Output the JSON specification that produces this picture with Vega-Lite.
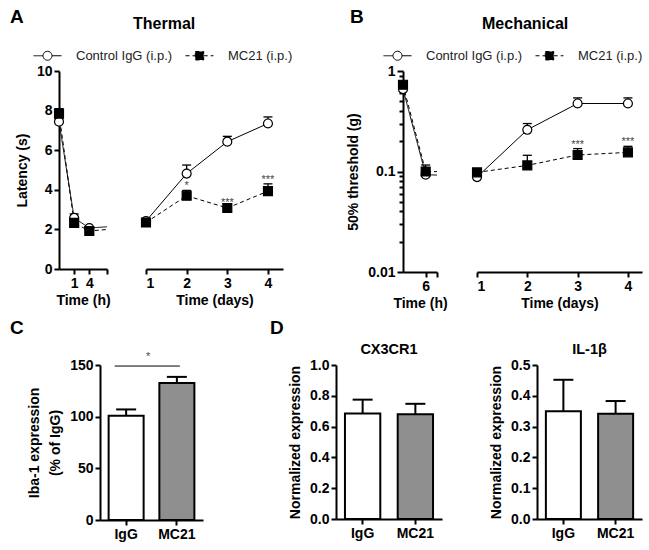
{
"$schema": "https://vega.github.io/schema/vega-lite/v6.json",
"background": "white",
"padding": {"left": 10, "top": 8, "right": 2, "bottom": 2},
"spacing": 9,
"resolve": {"scale": {"fill": "independent", "strokeDash": "independent"}},
"config": {
  "font": "Liberation Sans",
  "view": {"stroke": null},
  "axis": {"domainColor": "black", "domainWidth": 2, "tickColor": "black", "tickWidth": 2, "tickSize": 5, "labelFontWeight": "bold", "labelFontSize": 14, "labelColor": "black", "labelPadding": 2, "titleFontWeight": "bold", "titleFontSize": 14, "titleColor": "black", "grid": false},
  "axisX": {"titlePadding": 3},
  "axisY": {"titlePadding": 7},
  "title": {"fontWeight": "bold", "color": "black"}
},
"datasets": {
  "pain": [
    {"test": "Thermal", "group": "Control IgG (i.p.)", "hours": -2, "day": null, "y": 7.44, "hi": 7.6, "star": null},
    {"test": "Thermal", "group": "Control IgG (i.p.)", "hours": 1, "day": null, "y": 2.58, "hi": 2.78, "star": null},
    {"test": "Thermal", "group": "Control IgG (i.p.)", "hours": 4, "day": null, "y": 2.07, "hi": 2.12, "star": null},
    {"test": "Thermal", "group": "Control IgG (i.p.)", "hours": 24, "day": 1, "y": 2.42, "hi": 2.55, "star": null},
    {"test": "Thermal", "group": "Control IgG (i.p.)", "hours": 48, "day": 2, "y": 4.82, "hi": 5.25, "star": null},
    {"test": "Thermal", "group": "Control IgG (i.p.)", "hours": 72, "day": 3, "y": 6.43, "hi": 6.7, "star": null},
    {"test": "Thermal", "group": "Control IgG (i.p.)", "hours": 96, "day": 4, "y": 7.35, "hi": 7.68, "star": null},
    {"test": "Thermal", "group": "MC21 (i.p.)", "hours": -2, "day": null, "y": 7.85, "hi": 8.1, "star": null},
    {"test": "Thermal", "group": "MC21 (i.p.)", "hours": 1, "day": null, "y": 2.33, "hi": 2.45, "star": null},
    {"test": "Thermal", "group": "MC21 (i.p.)", "hours": 4, "day": null, "y": 1.92, "hi": 2.0, "star": null},
    {"test": "Thermal", "group": "MC21 (i.p.)", "hours": 24, "day": 1, "y": 2.35, "hi": 2.42, "star": null},
    {"test": "Thermal", "group": "MC21 (i.p.)", "hours": 48, "day": 2, "y": 3.7, "hi": 3.97, "star": "*"},
    {"test": "Thermal", "group": "MC21 (i.p.)", "hours": 72, "day": 3, "y": 3.08, "hi": 3.15, "star": "***"},
    {"test": "Thermal", "group": "MC21 (i.p.)", "hours": 96, "day": 4, "y": 3.93, "hi": 4.3, "star": "***"},
    {"test": "Mechanical", "group": "Control IgG (i.p.)", "hours": 0, "day": null, "y": 0.66, "hi": 0.7, "star": null},
    {"test": "Mechanical", "group": "Control IgG (i.p.)", "hours": 6, "day": null, "y": 0.093, "hi": 0.097, "star": null},
    {"test": "Mechanical", "group": "Control IgG (i.p.)", "hours": 24, "day": 1, "y": 0.088, "hi": 0.09, "star": null},
    {"test": "Mechanical", "group": "Control IgG (i.p.)", "hours": 48, "day": 2, "y": 0.26, "hi": 0.3, "star": null},
    {"test": "Mechanical", "group": "Control IgG (i.p.)", "hours": 72, "day": 3, "y": 0.475, "hi": 0.54, "star": null},
    {"test": "Mechanical", "group": "Control IgG (i.p.)", "hours": 96, "day": 4, "y": 0.475, "hi": 0.54, "star": null},
    {"test": "Mechanical", "group": "MC21 (i.p.)", "hours": 0, "day": null, "y": 0.73, "hi": 0.78, "star": null},
    {"test": "Mechanical", "group": "MC21 (i.p.)", "hours": 6, "day": null, "y": 0.1, "hi": 0.116, "star": null},
    {"test": "Mechanical", "group": "MC21 (i.p.)", "hours": 24, "day": 1, "y": 0.098, "hi": 0.1, "star": null},
    {"test": "Mechanical", "group": "MC21 (i.p.)", "hours": 48, "day": 2, "y": 0.115, "hi": 0.145, "star": null},
    {"test": "Mechanical", "group": "MC21 (i.p.)", "hours": 72, "day": 3, "y": 0.146, "hi": 0.169, "star": "***"},
    {"test": "Mechanical", "group": "MC21 (i.p.)", "hours": 96, "day": 4, "y": 0.155, "hi": 0.178, "star": "***"}
  ],
  "bars": [
    {"panel": "C", "grp": "IgG", "value": 101, "hi": 107},
    {"panel": "C", "grp": "MC21", "value": 132.5, "hi": 138.5},
    {"panel": "CX3CR1", "grp": "IgG", "value": 0.685, "hi": 0.775},
    {"panel": "CX3CR1", "grp": "MC21", "value": 0.68, "hi": 0.748},
    {"panel": "IL-1β", "grp": "IgG", "value": 0.35, "hi": 0.452},
    {"panel": "IL-1β", "grp": "MC21", "value": 0.342, "hi": 0.383}
  ],
  "sig": [
    {"grp": "IgG", "grp2": "MC21", "value": 149, "label": "*"}
  ],
  "blank": [{"v": 0}]
},
"vconcat": [
 {
  "hconcat": [
  {
    "width": 48, "height": 198,
    "title": {"text": "A", "anchor": "start", "frame": "group", "dx": -49, "fontSize": 19, "offset": 14},
    "data": {"name": "pain"},
    "encoding": {
      "x": {"field": "hours", "type": "quantitative", "scale": {"domain": [-2, 7.5], "nice": false, "zero": false}, "axis": {"values": [1, 4, 7.5], "labelExpr": "datum.value > 5 ? '' : datum.label", "title": "Time (h)"}},
      "y": {"field": "y", "type": "quantitative", "scale": {"domain": [0, 10], "nice": false}, "axis": {"values": [0, 2, 4, 6, 8, 10], "title": "Latency (s)"}}
    },
    "layer": [
      {"transform": [{"filter": "datum.test == 'Thermal'"}], "mark": {"type": "line", "clip": true, "color": "black", "strokeWidth": 1},
       "encoding": {"strokeDash": {"field": "group", "type": "nominal", "scale": {"domain": ["Control IgG (i.p.)", "MC21 (i.p.)"], "range": [[1, 0], [4, 3]]},
         "legend": {"orient": "none", "legendX": -26, "legendY": -30, "direction": "horizontal", "title": null, "symbolSize": 784, "symbolStrokeWidth": 1, "symbolStrokeColor": "black",
           "symbolType": {"expr": "datum.value == 'MC21 (i.p.)' ? 'M-1,0L-0.3,0M0.3,0L1,0M-0.3,-0.3L0.3,-0.3L0.3,0.3L-0.3,0.3Z' : 'M-1,0L-0.32,0M0.32,0L1,0M0.32,0A0.32,0.32,0,1,1,-0.32,0A0.32,0.32,0,1,1,0.32,0Z'"},
           "symbolFillColor": {"expr": "datum.value == 'MC21 (i.p.)' ? 'black' : 'white'"},
           "labelFontSize": 13, "labelFontWeight": "normal", "labelColor": "#222", "labelOffset": 14, "columnPadding": 10}}}},
      {"transform": [{"filter": "datum.test == 'Thermal' && datum.hours < 12"}], "mark": {"type": "rule", "color": "black", "strokeWidth": 1.3},
       "encoding": {"y2": {"field": "hi"}}},
      {"transform": [{"filter": "datum.test == 'Thermal' && datum.hours < 12"}], "mark": {"type": "tick", "orient": "horizontal", "size": 9, "thickness": 1.3, "color": "black", "opacity": 1},
       "encoding": {"y": {"field": "hi", "type": "quantitative", "axis": {"values": [0, 2, 4, 6, 8, 10], "title": "Latency (s)"}}}},
      {"transform": [{"filter": "datum.test == 'Thermal' && datum.hours < 12"}], "mark": {"type": "point", "filled": true, "stroke": "black", "strokeWidth": 1.2, "size": 80, "opacity": 1},
       "encoding": {
         "shape": {"condition": {"test": "datum.group == 'MC21 (i.p.)'", "value": "square"}, "value": "circle"},
         "fill": {"condition": {"test": "datum.group == 'MC21 (i.p.)'", "value": "black"}, "value": "white"}
       }}
    ]
  },
  {"width": 39, "height": 1, "data": {"name": "blank"}, "mark": {"type": "point", "opacity": 0, "size": 0}},
  {
    "width": 137, "height": 198,
    "title": {"text": "Thermal", "anchor": "start", "frame": "group", "dx": -13, "fontSize": 16, "offset": 39},
    "data": {"name": "pain"},
    "encoding": {
      "x": {"field": "day", "type": "quantitative", "scale": {"domain": [1, 4.37], "nice": false, "zero": false}, "axis": {"values": [1, 2, 3, 4], "format": "d", "title": "Time (days)"}},
      "y": {"field": "y", "type": "quantitative", "scale": {"domain": [0, 10], "nice": false}, "axis": null}
    },
    "layer": [
      {"transform": [{"filter": "datum.test == 'Thermal' && datum.day != null && datum.group == 'Control IgG (i.p.)'"}], "mark": {"type": "line", "color": "black", "strokeWidth": 1}, "encoding": {}},
      {"transform": [{"filter": "datum.test == 'Thermal' && datum.day != null && datum.group == 'MC21 (i.p.)'"}], "mark": {"type": "line", "color": "black", "strokeWidth": 1, "strokeDash": [4, 3]}, "encoding": {}},
      {"transform": [{"filter": "datum.test == 'Thermal' && datum.day != null"}], "mark": {"type": "rule", "color": "black", "strokeWidth": 1.3},
       "encoding": {"y2": {"field": "hi"}}},
      {"transform": [{"filter": "datum.test == 'Thermal' && datum.day != null"}], "mark": {"type": "tick", "orient": "horizontal", "size": 9, "thickness": 1.3, "color": "black", "opacity": 1},
       "encoding": {"y": {"field": "hi", "type": "quantitative", "axis": null}}},
      {"transform": [{"filter": "datum.test == 'Thermal' && datum.day != null"}], "mark": {"type": "point", "filled": true, "stroke": "black", "strokeWidth": 1.2, "size": 80, "opacity": 1},
       "encoding": {
         "shape": {"condition": {"test": "datum.group == 'MC21 (i.p.)'", "value": "square"}, "value": "circle"},
         "fill": {"condition": {"test": "datum.group == 'MC21 (i.p.)'", "value": "black"}, "value": "white"}
       }},
      {"transform": [{"filter": "datum.test == 'Thermal' && datum.day != null && datum.star != null"}], "mark": {"type": "text", "fontSize": 11, "color": "#444", "baseline": "middle", "dy": -4},
       "encoding": {"y": {"field": "hi", "type": "quantitative", "axis": null}, "text": {"field": "star"}}}
    ]
  },
  {"width": 120, "height": 1, "data": {"name": "blank"}, "mark": {"type": "point", "opacity": 0, "size": 0}},
  {
    "width": 34, "height": 201,
    "title": {"text": "B", "anchor": "start", "frame": "group", "dx": -53, "fontSize": 19, "offset": 14},
    "data": {"name": "pain"},
    "encoding": {
      "x": {"field": "hours", "type": "quantitative", "scale": {"domain": [0, 9], "nice": false, "zero": false}, "axis": {"values": [6, 9], "labelExpr": "datum.value > 7 ? '' : datum.label", "title": "Time (h)"}},
      "y": {"field": "y", "type": "quantitative", "scale": {"type": "log", "domain": [0.01, 1], "nice": false}, "axis": {"values": [0.01, 0.02, 0.03, 0.04, 0.05, 0.06, 0.07, 0.08, 0.09, 0.1, 0.2, 0.3, 0.4, 0.5, 0.6, 0.7, 0.8, 0.9, 1], "labelOverlap": false, "labelExpr": "datum.value == 1 ? '1' : datum.value == 0.1 ? '0.1' : datum.value == 0.01 ? '0.01' : ''", "tickSize": {"condition": {"test": "datum.value == 1 || datum.value == 0.1 || datum.value == 0.01", "value": 6}, "value": 4}, "title": "50% threshold (g)"}}
    },
    "layer": [
      {"transform": [{"filter": "datum.test == 'Mechanical'"}], "mark": {"type": "line", "clip": true, "color": "black", "strokeWidth": 1},
       "encoding": {"strokeDash": {"field": "group", "type": "nominal", "scale": {"domain": ["Control IgG (i.p.)", "MC21 (i.p.)"], "range": [[1, 0], [4, 3]]},
         "legend": {"orient": "none", "legendX": -20, "legendY": -30, "direction": "horizontal", "title": null, "symbolSize": 784, "symbolStrokeWidth": 1, "symbolStrokeColor": "black",
           "symbolType": {"expr": "datum.value == 'MC21 (i.p.)' ? 'M-1,0L-0.3,0M0.3,0L1,0M-0.3,-0.3L0.3,-0.3L0.3,0.3L-0.3,0.3Z' : 'M-1,0L-0.32,0M0.32,0L1,0M0.32,0A0.32,0.32,0,1,1,-0.32,0A0.32,0.32,0,1,1,0.32,0Z'"},
           "symbolFillColor": {"expr": "datum.value == 'MC21 (i.p.)' ? 'black' : 'white'"},
           "labelFontSize": 13, "labelFontWeight": "normal", "labelColor": "#222", "labelOffset": 14, "columnPadding": 10}}}},
      {"transform": [{"filter": "datum.test == 'Mechanical' && datum.hours < 12"}], "mark": {"type": "rule", "color": "black", "strokeWidth": 1.3},
       "encoding": {"y2": {"field": "hi"}}},
      {"transform": [{"filter": "datum.test == 'Mechanical' && datum.hours < 12"}], "mark": {"type": "tick", "orient": "horizontal", "size": 9, "thickness": 1.3, "color": "black", "opacity": 1},
       "encoding": {"y": {"field": "hi", "type": "quantitative", "axis": {"values": [0.01, 0.02, 0.03, 0.04, 0.05, 0.06, 0.07, 0.08, 0.09, 0.1, 0.2, 0.3, 0.4, 0.5, 0.6, 0.7, 0.8, 0.9, 1], "labelOverlap": false, "labelExpr": "datum.value == 1 ? '1' : datum.value == 0.1 ? '0.1' : datum.value == 0.01 ? '0.01' : ''", "tickSize": {"condition": {"test": "datum.value == 1 || datum.value == 0.1 || datum.value == 0.01", "value": 6}, "value": 4}, "title": "50% threshold (g)"}}}},
      {"transform": [{"filter": "datum.test == 'Mechanical' && datum.hours < 12"}], "mark": {"type": "point", "filled": true, "stroke": "black", "strokeWidth": 1.2, "size": 80, "opacity": 1},
       "encoding": {
         "shape": {"condition": {"test": "datum.group == 'MC21 (i.p.)'", "value": "square"}, "value": "circle"},
         "fill": {"condition": {"test": "datum.group == 'MC21 (i.p.)'", "value": "black"}, "value": "white"}
       }}
    ]
  },
  {"width": 40, "height": 1, "data": {"name": "blank"}, "mark": {"type": "point", "opacity": 0, "size": 0}},
  {
    "width": 165, "height": 201,
    "title": {"text": "Mechanical", "anchor": "start", "frame": "group", "dx": 5, "fontSize": 16, "offset": 39},
    "data": {"name": "pain"},
    "encoding": {
      "x": {"field": "day", "type": "quantitative", "scale": {"domain": [1, 4.28], "nice": false, "zero": false}, "axis": {"values": [1, 2, 3, 4], "format": "d", "title": "Time (days)"}},
      "y": {"field": "y", "type": "quantitative", "scale": {"type": "log", "domain": [0.01, 1], "nice": false}, "axis": null}
    },
    "layer": [
      {"transform": [{"filter": "datum.test == 'Mechanical' && datum.day != null && datum.group == 'Control IgG (i.p.)'"}], "mark": {"type": "line", "color": "black", "strokeWidth": 1}, "encoding": {}},
      {"transform": [{"filter": "datum.test == 'Mechanical' && datum.day != null && datum.group == 'MC21 (i.p.)'"}], "mark": {"type": "line", "color": "black", "strokeWidth": 1, "strokeDash": [4, 3]}, "encoding": {}},
      {"transform": [{"filter": "datum.test == 'Mechanical' && datum.day != null"}], "mark": {"type": "rule", "color": "black", "strokeWidth": 1.3},
       "encoding": {"y2": {"field": "hi"}}},
      {"transform": [{"filter": "datum.test == 'Mechanical' && datum.day != null"}], "mark": {"type": "tick", "orient": "horizontal", "size": 9, "thickness": 1.3, "color": "black", "opacity": 1},
       "encoding": {"y": {"field": "hi", "type": "quantitative", "axis": null}}},
      {"transform": [{"filter": "datum.test == 'Mechanical' && datum.day != null"}], "mark": {"type": "point", "filled": true, "stroke": "black", "strokeWidth": 1.2, "size": 80, "opacity": 1},
       "encoding": {
         "shape": {"condition": {"test": "datum.group == 'MC21 (i.p.)'", "value": "square"}, "value": "circle"},
         "fill": {"condition": {"test": "datum.group == 'MC21 (i.p.)'", "value": "black"}, "value": "white"}
       }},
      {"transform": [{"filter": "datum.test == 'Mechanical' && datum.day != null && datum.star != null"}], "mark": {"type": "text", "fontSize": 11, "color": "#444", "baseline": "middle", "dy": -4},
       "encoding": {"y": {"field": "hi", "type": "quantitative", "axis": null}, "text": {"field": "star"}}}
    ]
  }
  ],
  "spacing": 0, "bounds": "flush",
  "resolve": {"scale": {"fill": "independent", "strokeDash": "independent"}}
 },
 {
  "hconcat": [
  {"width": 41, "height": 1, "data": {"name": "blank"}, "mark": {"type": "point", "opacity": 0, "size": 0}},
  {
    "width": 103, "height": 155,
    "title": {"text": "C", "anchor": "start", "frame": "group", "dx": -90, "fontSize": 19, "offset": 13},
    "encoding": {
      "x": {"field": "grp", "type": "nominal", "scale": {"domain": ["IgG", "MC21"], "paddingInner": 0.31, "paddingOuter": 0.17}, "axis": {"title": null, "labelAngle": 0}},
      "y": {"field": "value", "type": "quantitative", "scale": {"domain": [0, 150], "nice": false}, "axis": {"values": [0, 50, 100, 150], "title": ["Iba-1 expression", "(% of IgG)"], "titleLineHeight": 21}}
    },
    "layer": [
      {"data": {"name": "bars"}, "transform": [{"filter": "datum.panel == 'C'"}], "mark": {"type": "bar", "stroke": "black", "strokeWidth": 2},
       "encoding": {"fill": {"field": "grp", "type": "nominal", "scale": {"domain": ["IgG", "MC21"], "range": ["white", "#8f8f8f"]}, "legend": null}}},
      {"data": {"name": "bars"}, "transform": [{"filter": "datum.panel == 'C'"}], "mark": {"type": "rule", "color": "black", "strokeWidth": 2},
       "encoding": {"y2": {"field": "hi"}}},
      {"data": {"name": "bars"}, "transform": [{"filter": "datum.panel == 'C'"}], "mark": {"type": "tick", "orient": "horizontal", "size": 20, "thickness": 2, "color": "black", "opacity": 1},
       "encoding": {"y": {"field": "hi", "type": "quantitative", "axis": {"values": [0, 50, 100, 150], "title": ["Iba-1 expression", "(% of IgG)"], "titleLineHeight": 21}}}},
      {"data": {"name": "sig"}, "mark": {"type": "rule", "color": "black", "strokeWidth": 1, "xOffset": -11.5, "x2Offset": 3},
       "encoding": {"x2": {"field": "grp2"}}},
      {"data": {"name": "sig"}, "mark": {"type": "text", "fontSize": 11, "color": "#444", "baseline": "middle", "dx": 22, "dy": -9},
       "encoding": {"text": {"field": "label"}}}
    ]
  },
  {"width": 133, "height": 1, "data": {"name": "blank"}, "mark": {"type": "point", "opacity": 0, "size": 0},
   "title": {"text": "D", "anchor": "start", "frame": "group", "dx": 67, "fontSize": 19, "offset": 27}},
  {
    "width": 106, "height": 154,
    "title": {"text": "CX3CR1", "fontSize": 14.5, "offset": 1},
    "data": {"name": "bars"},
    "transform": [{"filter": "datum.panel == 'CX3CR1'"}],
    "encoding": {
      "x": {"field": "grp", "type": "nominal", "scale": {"domain": ["IgG", "MC21"], "paddingInner": 0.33, "paddingOuter": 0.17}, "axis": {"title": null, "labelAngle": 0}},
      "y": {"field": "value", "type": "quantitative", "scale": {"domain": [0, 1], "nice": false}, "axis": {"values": [0, 0.2, 0.4, 0.6, 0.8, 1], "format": ".1f", "title": "Normalized expression"}}
    },
    "layer": [
      {"mark": {"type": "bar", "stroke": "black", "strokeWidth": 2},
       "encoding": {"fill": {"field": "grp", "type": "nominal", "scale": {"domain": ["IgG", "MC21"], "range": ["white", "#8f8f8f"]}, "legend": null}}},
      {"mark": {"type": "rule", "color": "black", "strokeWidth": 2},
       "encoding": {"y2": {"field": "hi"}}},
      {"mark": {"type": "tick", "orient": "horizontal", "size": 20, "thickness": 2, "color": "black", "opacity": 1},
       "encoding": {"y": {"field": "hi", "type": "quantitative", "axis": {"values": [0, 0.2, 0.4, 0.6, 0.8, 1], "format": ".1f", "title": "Normalized expression"}}}}
    ]
  },
  {"width": 95, "height": 1, "data": {"name": "blank"}, "mark": {"type": "point", "opacity": 0, "size": 0}},
  {
    "width": 105, "height": 154,
    "title": {"text": "IL-1β", "fontSize": 14.5, "offset": 1},
    "data": {"name": "bars"},
    "transform": [{"filter": "datum.panel == 'IL-1β'"}],
    "encoding": {
      "x": {"field": "grp", "type": "nominal", "scale": {"domain": ["IgG", "MC21"], "paddingInner": 0.33, "paddingOuter": 0.17}, "axis": {"title": null, "labelAngle": 0}},
      "y": {"field": "value", "type": "quantitative", "scale": {"domain": [0, 0.5], "nice": false}, "axis": {"values": [0, 0.1, 0.2, 0.3, 0.4, 0.5], "format": ".1f", "title": "Normalized expression"}}
    },
    "layer": [
      {"mark": {"type": "bar", "stroke": "black", "strokeWidth": 2},
       "encoding": {"fill": {"field": "grp", "type": "nominal", "scale": {"domain": ["IgG", "MC21"], "range": ["white", "#8f8f8f"]}, "legend": null}}},
      {"mark": {"type": "rule", "color": "black", "strokeWidth": 2},
       "encoding": {"y2": {"field": "hi"}}},
      {"mark": {"type": "tick", "orient": "horizontal", "size": 20, "thickness": 2, "color": "black", "opacity": 1},
       "encoding": {"y": {"field": "hi", "type": "quantitative", "axis": {"values": [0, 0.1, 0.2, 0.3, 0.4, 0.5], "format": ".1f", "title": "Normalized expression"}}}}
    ]
  }
  ],
  "spacing": 0, "bounds": "flush"
 }
]
}
